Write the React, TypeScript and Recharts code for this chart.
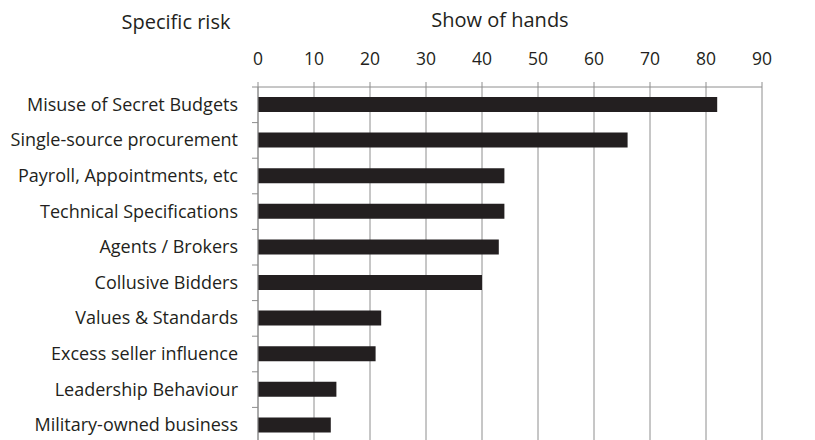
import { BarChart, Bar, XAxis, YAxis, CartesianGrid, Customized } from "recharts"

const categories = [
  "Misuse of Secret Budgets",
  "Single-source procurement",
  "Payroll, Appointments, etc",
  "Technical Specifications",
  "Agents / Brokers",
  "Collusive Bidders",
  "Values & Standards",
  "Excess seller influence",
  "Leadership Behaviour",
  "Military-owned business",
]
const hands = [82, 66, 44, 44, 43, 40, 22, 21, 14, 13]
const xTicks = [0, 10, 20, 30, 40, 50, 60, 70, 80, 90]

const data = categories.map((name, i) => ({ name, hands: hands[i] }))

const FONT = "'Open Sans', Lato, sans-serif"
const TEXT = "#231f20"
const GRID = "#8e8e8e"
const AXIS_W = 258

function CategoryTick(props: any) {
  const { x, y, payload } = props
  const half = payload && payload.offset ? payload.offset : 17.75
  return (
    <g>
      <line x1={AXIS_W - 6} x2={AXIS_W} y1={y - half} y2={y - half} stroke={GRID} />
      <text x={x} y={y} dy={6} textAnchor="end" fill={TEXT} fontSize={18} fontFamily={FONT}>
        {payload.value}
      </text>
    </g>
  )
}

function Titles() {
  return (
    <g fontFamily={FONT} fontSize={20} fill={TEXT}>
      <text x={176} y={29} textAnchor="middle">Specific risk</text>
      <text x={500} y={27} textAnchor="middle">Show of hands</text>
    </g>
  )
}

export default function App() {
  return (
    <div style={{ position: "absolute", left: 0, top: 0, background: "#fff" }}>
      <BarChart
        width={815}
        height={460}
        data={data}
        layout="vertical"
        margin={{ top: 47, right: 53, bottom: 17, left: 0 }}
        barSize={15}
      >
        <CartesianGrid horizontal={false} stroke={GRID} />
        <XAxis
          type="number"
          orientation="top"
          domain={[0, 90]}
          ticks={xTicks}
          interval={0}
          height={40}
          tickSize={5}
          tickMargin={17}
          stroke={GRID}
          tick={{ fill: TEXT, fontSize: 17.5, fontFamily: FONT }}
        />
        <YAxis
          type="category"
          dataKey="name"
          width={AXIS_W}
          tickLine={false}
          tickSize={6}
          tickMargin={14}
          stroke={GRID}
          interval={0}
          tick={<CategoryTick />}
        />
        <Bar dataKey="hands" fill={TEXT} isAnimationActive={false} />
        <Customized component={Titles} />
      </BarChart>
    </div>
  )
}
